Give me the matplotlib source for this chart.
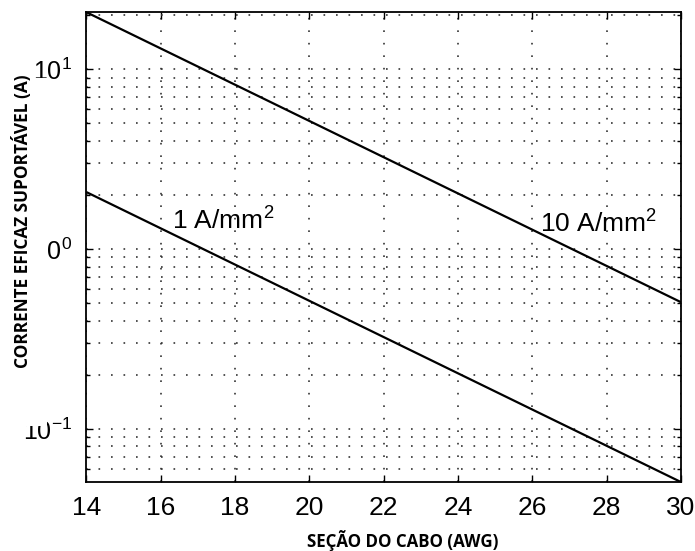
import matplotlib
matplotlib.use("Agg")
import matplotlib.pyplot as plt
from matplotlib.patches import Rectangle
from matplotlib.ticker import LogLocator, NullLocator

plt.rcParams['font.family'] = ['Liberation Sans', 'DejaVu Sans']
plt.rcParams['mathtext.fontset'] = 'custom'
plt.rcParams['mathtext.rm'] = 'Liberation Sans'
plt.rcParams['mathtext.it'] = 'Liberation Sans'
plt.rcParams['mathtext.bf'] = 'Liberation Sans:bold'

# Data
awg = [14, 30]                 # wire gauge (AWG)
area_mm2 = [2.08, 0.0507]      # conductor cross-section for each gauge (mm^2)
densities = [10, 1]            # current densities (A/mm^2)
line_labels = ['10 A/mm$^{2}$', '1 A/mm$^{2}$']
label_x = [26.2, 16.3]
label_y = [1.24, 1.28]
xticks = [14, 16, 18, 20, 22, 24, 26, 28, 30]

fig = plt.figure(figsize=(6.95, 5.51), dpi=100)
ax = fig.add_axes([0.124, 0.125, 0.856, 0.853])

for d, lab, lx, ly in zip(densities, line_labels, label_x, label_y):
    cur = [d * a for a in area_mm2]
    ax.plot(awg, cur, color='black', lw=1.6, solid_capstyle='butt')
    ax.text(lx, ly, lab, fontsize=19, ha='left', va='baseline')

ax.set_yscale('log')
ax.set_xlim(awg[0], awg[-1])
allv = [d * a for d in densities for a in area_mm2]
ax.set_ylim(min(allv), max(allv))
ax.set_xticks(xticks)
ax.xaxis.set_minor_locator(NullLocator())
ax.yaxis.set_major_locator(LogLocator(base=10))
ax.yaxis.set_minor_locator(LogLocator(base=10, subs=range(2, 10)))

grid_kw = dict(color='0.2', lw=1.2, ls=(0, (1, 6.5)))
ax.grid(which='major', axis='both', **grid_kw)
ax.grid(which='minor', axis='y', **grid_kw)

ax.tick_params(which='both', direction='in', top=True, right=True, width=1.0)
ax.tick_params(which='major', length=5)
ax.tick_params(which='minor', length=3)
ax.tick_params(axis='x', pad=10, labelsize=19)
ax.tick_params(axis='y', pad=10, labelsize=18)
for s in ax.spines.values():
    s.set_linewidth(1.3)

# white mask over the left edge (as in the reference) and the y label
fig.patches.append(Rectangle((0, 0.227), 0.067, 0.631, transform=fig.transFigure,
                             facecolor='white', edgecolor='none', zorder=5))
fig.text(0.031, 0.598, 'CORRENTE EFICAZ SUPORTÁVEL (A)', rotation=90,
         ha='center', va='center', fontsize=12.4, fontweight='bold',
         family=['Open Sans', 'DejaVu Sans'], zorder=6)
fig.text(0.579, 0.019, 'SEÇÃO DO CABO (AWG)', ha='center', va='center',
         fontsize=12.2, fontweight='bold', family=['Open Sans', 'DejaVu Sans'])

fig.savefig('out.png', dpi=100)
